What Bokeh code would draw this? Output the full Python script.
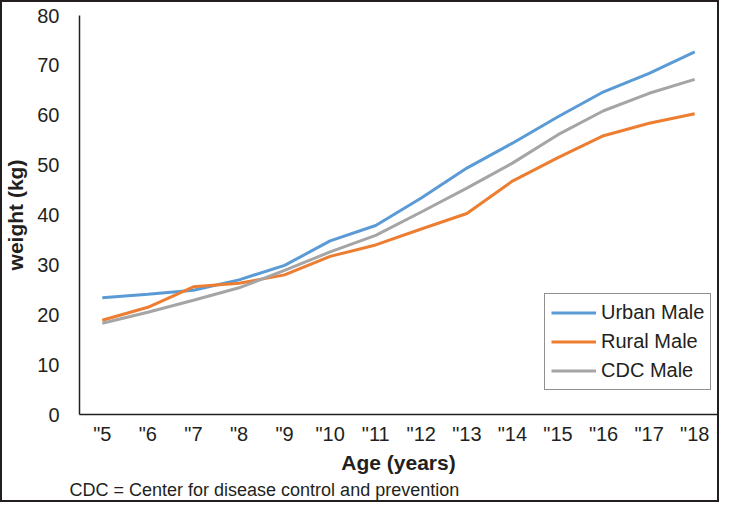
from bokeh.plotting import figure
from bokeh.models import (FactorRange, Range1d, SingleIntervalTicker, Legend,
                          LegendItem, Title, InlineStyleSheet)
from bokeh.embed import file_html
from bokeh.resources import INLINE

ages = ['"5', '"6', '"7', '"8', '"9', '"10', '"11', '"12', '"13', '"14',
        '"15', '"16', '"17', '"18']
urban = [23.4, 24.1, 24.9, 27.0, 29.9, 34.8, 37.9, 43.4, 49.4, 54.4, 59.7, 64.7, 68.4, 72.7]
rural = [18.9, 21.5, 25.6, 26.3, 28.0, 31.7, 34.0, 37.2, 40.3, 46.8, 51.5, 55.9, 58.4, 60.3]
cdc = [18.3, 20.5, 22.9, 25.4, 28.9, 32.6, 35.9, 40.6, 45.4, 50.4, 56.1, 60.9, 64.4, 67.2]
series_names = ["Urban Male", "Rural Male", "CDC Male"]
colors = ["#5B9BD5", "#ED7D31", "#A5A5A5"]

FONT = "Liberation Sans"
INK = "#231f20"

p = figure(width=719, height=502, x_range=FactorRange(*ages, range_padding=0),
           y_range=Range1d(0, 80), output_backend="svg", toolbar_location=None,
           min_border_left=79, min_border_right=2, min_border_top=15,
           min_border_bottom=88)
p.stylesheets = [InlineStyleSheet(css=(
    ":host { position: relative; }"
    ":host::after { content: ''; position: absolute; left: 0; top: 0; right: 0; bottom: 0;"
    " border: 2px solid #231f20; pointer-events: none; z-index: 1000; }"))]
p.outline_line_color = None
p.xgrid.grid_line_color = None
p.ygrid.grid_line_color = None
p.background_fill_color = "white"
p.border_fill_color = "white"

renderers = []
for vals, c in zip([urban, rural, cdc], colors):
    r = p.line(x=ages, y=vals, line_color=c, line_width=3)
    renderers.append(r)

p.yaxis.ticker = SingleIntervalTicker(interval=10)
for ax in (p.xaxis[0], p.yaxis[0]):
    ax.major_tick_line_color = None
    ax.minor_tick_line_color = None
    ax.major_tick_out = 0
    ax.major_tick_in = 0
    ax.axis_line_color = INK
    ax.axis_line_width = 1.5
    ax.major_label_text_font = FONT
    ax.major_label_text_color = INK
    ax.major_label_text_font_size = "20px"
    ax.axis_label_text_font = FONT
    ax.axis_label_text_font_style = "bold"
    ax.axis_label_text_font_size = "21px"
    ax.axis_label_text_color = INK

p.yaxis.major_label_standoff = 16
p.yaxis.axis_label = "weight (kg)"
p.yaxis.axis_label_standoff = 7
p.xaxis.major_label_standoff = 8
p.xaxis.axis_label = "Age (years)"
p.xaxis.axis_label_standoff = 3

legend = Legend(items=[LegendItem(label=n, renderers=[r]) for n, r in zip(series_names, renderers)],
                location=(465, 24), border_line_color=INK, border_line_width=1.5,
                padding=6, spacing=4, margin=0, label_height=25, glyph_height=25,
                glyph_width=45, label_standoff=5, label_text_font=FONT,
                label_text_font_size="20px", label_text_color=INK,
                background_fill_alpha=1)
p.add_layout(legend, "center")

note = Title(text="CDC = Center for disease control and prevention", align="left",
             offset=-10, text_font=FONT, text_font_size="18px",
             text_font_style="normal", text_color=INK, standoff=3)
p.add_layout(note, "below")

open("out.html", "w").write(file_html(p, INLINE))
